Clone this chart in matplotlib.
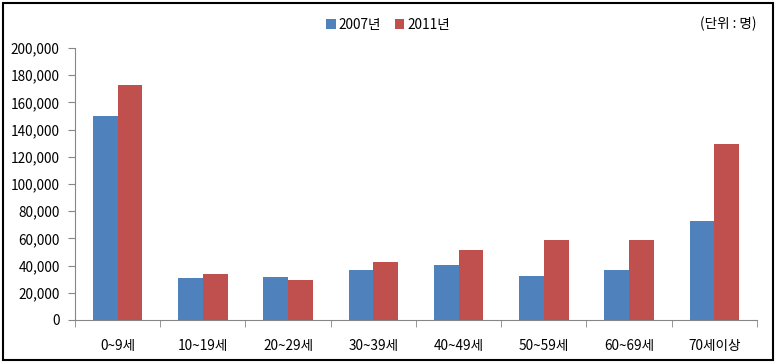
import numpy as np
import matplotlib
matplotlib.use('Agg')
import matplotlib.pyplot as plt
from matplotlib.patches import Rectangle
from matplotlib.ticker import FuncFormatter

plt.rcParams['font.family'] = ['Noto Sans CJK KR', 'DejaVu Sans']

# 데이터
categories = ['0~9세', '10~19세', '20~29세', '30~39세', '40~49세', '50~59세', '60~69세', '70세이상']
y2007 = [150000, 31000, 31700, 36800, 40400, 32000, 37000, 72600]
y2011 = [173000, 34000, 29400, 42600, 51500, 58800, 58800, 129200]
series_names = ['2007년', '2011년']

blue = '#4F81BD'
red = '#C0504D'
axis_grey = '#868686'

fig = plt.figure(figsize=(7.76, 3.63), dpi=100)
ax = fig.add_axes([0.0966, 0.1185, 0.8789, 0.7493])

ind = np.arange(len(categories))
width = 0.29
ax.bar(ind - width/2, y2007, width, color=blue, label=series_names[0])
ax.bar(ind + width/2, y2011, width, color=red, label=series_names[1])

ax.set_xlim(-0.5, len(categories) - 0.5)
ax.set_ylim(0, 200000)
ax.set_yticks(np.arange(0, 200001, 20000))
ax.yaxis.set_major_formatter(FuncFormatter(lambda v, p: f'{int(v):,}'))

ax.set_xticks(ind)
ax.set_xticklabels(categories)
ax.set_xticks(np.arange(-0.5, len(categories), 1), minor=True)
ax.tick_params(axis='x', which='major', length=0, pad=14, labelsize=9.8)
ax.tick_params(axis='x', which='minor', length=5, color=axis_grey, direction='out')
ax.tick_params(axis='y', length=5, color=axis_grey, direction='out', labelsize=9.8, pad=6)

for s in ['top', 'right']:
    ax.spines[s].set_visible(False)
for s in ['left', 'bottom']:
    ax.spines[s].set_color(axis_grey)

fig.legend(loc='upper center', bbox_to_anchor=(0.50, 0.985), ncol=2, frameon=False,
           handlelength=0.7, handleheight=0.7, handletextpad=0.2, columnspacing=1.0,
           fontsize=9.8)

fig.text(0.975, 0.935, '(단위 : 명)', ha='right', va='center', fontsize=9.8)

# 외곽 테두리
fig.patches.append(Rectangle((0.004, 0.008), 0.992, 0.985, transform=fig.transFigure,
                             fill=False, edgecolor='black', linewidth=1.5))

fig.savefig('out.png', dpi=100)
